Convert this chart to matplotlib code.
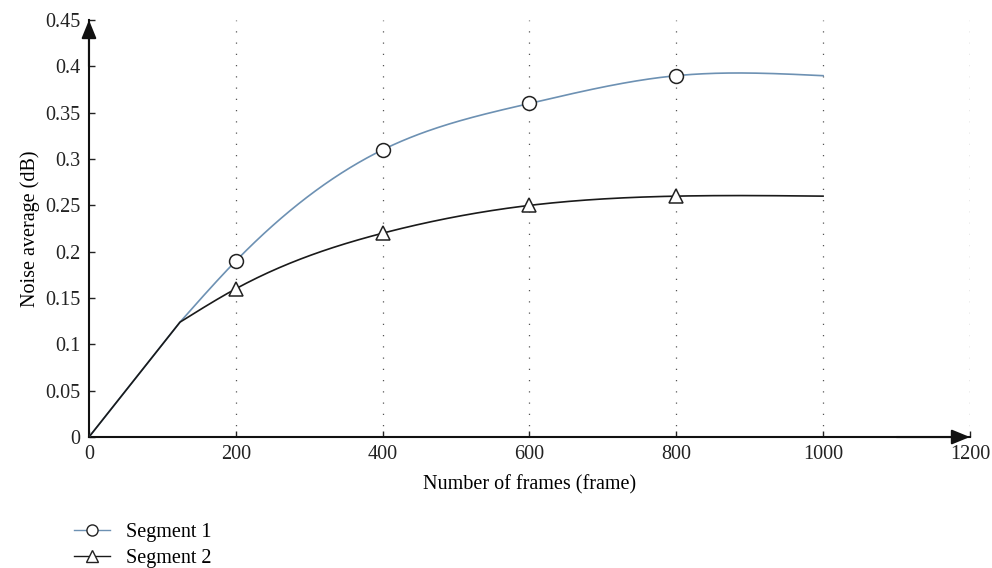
import numpy as np
import matplotlib
matplotlib.use('Agg')
import matplotlib.pyplot as plt

plt.rcParams['font.family'] = ['Liberation Serif', 'DejaVu Serif']

# curve knots (frames, noise average)
frames = [0, 124, 200, 400, 600, 800, 1000]
seg1 = [0, 0.124, 0.19, 0.31, 0.36, 0.39, 0.39]
seg2 = [0, 0.124, 0.16, 0.22, 0.25, 0.26, 0.26]
marker_frames = [200, 400, 600, 800]
seg1_marks = [0.19, 0.31, 0.36, 0.39]
seg2_marks = [0.16, 0.22, 0.25, 0.26]
labels = ['Segment 1', 'Segment 2']


def smooth(x, y, n=300):
    # straight piece to the first knot, natural cubic spline after it
    x = np.asarray(x, float)
    y = np.asarray(y, float)
    xs, ys = x[1:], y[1:]
    m = len(xs)
    h = np.diff(xs)
    A = np.zeros((m, m))
    b = np.zeros(m)
    A[0, 0] = 1
    A[-1, -1] = 1
    for i in range(1, m - 1):
        A[i, i - 1] = h[i - 1]
        A[i, i] = 2 * (h[i - 1] + h[i])
        A[i, i + 1] = h[i]
        b[i] = 6 * ((ys[i + 1] - ys[i]) / h[i] - (ys[i] - ys[i - 1]) / h[i - 1])
    M = np.linalg.solve(A, b)
    xx = np.linspace(xs[0], xs[-1], n)
    k = np.clip(np.searchsorted(xs, xx) - 1, 0, m - 2)
    t0 = xs[k + 1] - xx
    t1 = xx - xs[k]
    hk = h[k]
    yy = (M[k] * t0**3 + M[k + 1] * t1**3) / (6 * hk) \
        + (ys[k] / hk - M[k] * hk / 6) * t0 + (ys[k + 1] / hk - M[k + 1] * hk / 6) * t1
    return np.concatenate([[x[0]], xx]), np.concatenate([[y[0]], yy])


fs = 14.5
fig = plt.figure(figsize=(9.92, 5.68), dpi=100)
ax = fig.add_axes([0.0897, 0.2306, 0.888, 0.734])

x1, y1 = smooth(frames, seg1)
x2, y2 = smooth(frames, seg2)
c1 = '#6d91b3'
ax.plot(x1, y1, color=c1, lw=1.2, zorder=3)
ax.plot(x2, y2, color='#1a1a1a', lw=1.2, zorder=3)
ax.plot(marker_frames, seg1_marks, 'o', ms=10, mfc='white', mec='#222222', mew=1.1, zorder=4)
ax.plot(marker_frames, seg2_marks, '^', ms=10, mfc='white', mec='#222222', mew=1.1, zorder=4)

ax.set_xlim(0, 1200)
ax.set_ylim(0, 0.45)
ax.set_xticks([0, 200, 400, 600, 800, 1000, 1200])
ax.set_yticks(np.arange(0, 0.451, 0.05))
ax.set_yticklabels(['0', '0.05', '0.1', '0.15', '0.2', '0.25', '0.3', '0.35', '0.4', '0.45'])
ax.tick_params(direction='in', length=4, width=1, labelsize=fs, colors='#222222', pad=6)
for s in ['top', 'right']:
    ax.spines[s].set_visible(False)
for s in ['left', 'bottom']:
    ax.spines[s].set_linewidth(1.5)
    ax.spines[s].set_color('#111111')

for gx in [200, 400, 600, 800, 1000, 1200]:
    ax.axvline(gx, color='#555555', lw=0.9, ls=(0, (1, 8)), zorder=1)

ax.annotate('', xy=(0, 0.45), xytext=(0, 0.40), xycoords='data',
            arrowprops=dict(arrowstyle='-|>,head_length=1.1,head_width=0.45',
                            color='#111111', lw=1.5, shrinkA=0, shrinkB=0),
            annotation_clip=False)
ax.annotate('', xy=(1200, 0), xytext=(1100, 0), xycoords='data',
            arrowprops=dict(arrowstyle='-|>,head_length=1.1,head_width=0.45',
                            color='#111111', lw=1.5, shrinkA=0, shrinkB=0),
            annotation_clip=False)

ax.set_xlabel('Number of frames (frame)', fontsize=fs, labelpad=8)
ax.set_ylabel('Noise average (dB)', fontsize=fs, labelpad=4)

h1, = ax.plot([], [], color=c1, lw=1.0, marker='o', ms=8, mfc='white', mec='#222222', mew=1.0)
h2, = ax.plot([], [], color='#1a1a1a', lw=1.0, marker='^', ms=8.5, mfc='white', mec='#222222', mew=1.0)
fig.legend([h1, h2], labels, loc='lower left', bbox_to_anchor=(0.075, 0.0),
           frameon=False, fontsize=fs, handlelength=1.75, handletextpad=0.8,
           labelspacing=0.35, borderaxespad=0, borderpad=0)

fig.savefig('out.png', dpi=100)
